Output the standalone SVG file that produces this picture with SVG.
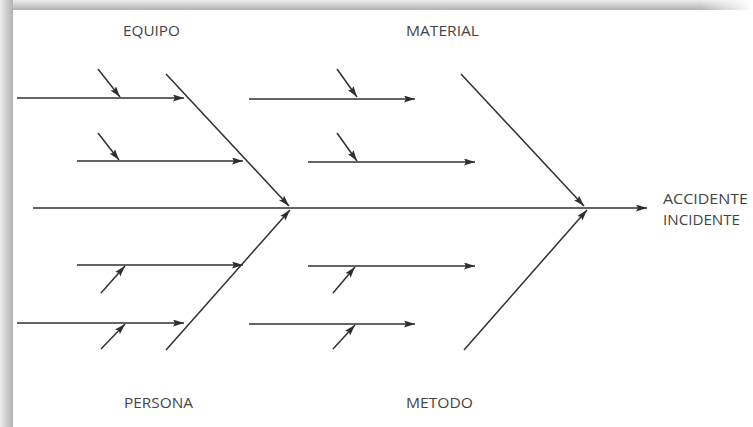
<svg xmlns="http://www.w3.org/2000/svg" width="753" height="427" viewBox="0 0 753 427">
  <defs>
    <linearGradient id="gTop" x1="0" y1="0" x2="0" y2="1">
      <stop offset="0" stop-color="#ececec"/>
      <stop offset="1" stop-color="#b2b2b2"/>
    </linearGradient>
    <linearGradient id="gLeft" x1="0" y1="0" x2="1" y2="0">
      <stop offset="0" stop-color="#ececec"/>
      <stop offset="1" stop-color="#b2b2b2"/>
    </linearGradient>
    <linearGradient id="gFade" x1="0" y1="0" x2="1" y2="0">
      <stop offset="0" stop-color="#ffffff" stop-opacity="0"/>
      <stop offset="1" stop-color="#ffffff" stop-opacity="1"/>
    </linearGradient>
    <marker id="ah" markerUnits="userSpaceOnUse" markerWidth="12" markerHeight="8" refX="11" refY="3.5" orient="auto">
      <path d="M0,0 L11,3.5 L0,7 L2,3.5 z" fill="#2e2e2e"/>
    </marker>
    <style>
      .ln { stroke: #303030; stroke-width: 1.5; fill: none; }
      .ar { marker-end: url(#ah); }
      .lb { font-family: "Open Sans", "Noto Sans", "Liberation Sans", sans-serif; font-size: 14px; fill: #444444; }
    </style>
  </defs>

  <rect x="0" y="0" width="753" height="427" fill="#ffffff"/>
  <rect x="0" y="0" width="753" height="10" fill="url(#gTop)"/>
  <rect x="700" y="0" width="53" height="10" fill="url(#gFade)"/>
  <rect x="0" y="0" width="13" height="427" fill="url(#gLeft)"/>

  <g id="connectors">
    <line class="ln ar" x1="33" y1="208" x2="647" y2="208"/>
    <line class="ln ar" x1="166" y1="74" x2="289" y2="206"/>
    <line class="ln ar" x1="461" y1="74" x2="584" y2="206"/>
    <line class="ln ar" x1="166" y1="350" x2="290" y2="210"/>
    <line class="ln ar" x1="464" y1="350" x2="587" y2="210"/>
    <line class="ln ar" x1="17" y1="98" x2="184" y2="98"/>
    <line class="ln ar" x1="98" y1="69" x2="120" y2="97"/>
    <line class="ln ar" x1="77" y1="161" x2="243" y2="161"/>
    <line class="ln ar" x1="98" y1="133" x2="119" y2="160"/>
    <line class="ln ar" x1="249" y1="99" x2="415" y2="99"/>
    <line class="ln ar" x1="337" y1="69" x2="357" y2="97"/>
    <line class="ln ar" x1="308" y1="162" x2="475" y2="162"/>
    <line class="ln ar" x1="337" y1="133" x2="357" y2="161"/>
    <line class="ln ar" x1="77" y1="265" x2="243" y2="265"/>
    <line class="ln ar" x1="101" y1="293" x2="125" y2="266"/>
    <line class="ln ar" x1="17" y1="323" x2="184" y2="323"/>
    <line class="ln ar" x1="101" y1="349" x2="125" y2="324"/>
    <line class="ln ar" x1="308" y1="266" x2="475" y2="266"/>
    <line class="ln ar" x1="333" y1="293" x2="355" y2="267"/>
    <line class="ln ar" x1="249" y1="324" x2="415" y2="324"/>
    <line class="ln ar" x1="333" y1="349" x2="355" y2="325"/>
  </g>

  <g id="equipo"><text class="lb" x="123" y="36" textLength="57" lengthAdjust="spacingAndGlyphs">EQUIPO</text></g>
  <g id="material"><text class="lb" x="406" y="36" textLength="73" lengthAdjust="spacingAndGlyphs">MATERIAL</text></g>
  <g id="persona"><text class="lb" x="124" y="408" textLength="69" lengthAdjust="spacingAndGlyphs">PERSONA</text></g>
  <g id="metodo"><text class="lb" x="406" y="408" textLength="67" lengthAdjust="spacingAndGlyphs">METODO</text></g>
  <g id="accidente">
    <text class="lb" x="663" y="204" textLength="85" lengthAdjust="spacingAndGlyphs">ACCIDENTE</text>
    <text class="lb" x="663" y="225" textLength="77" lengthAdjust="spacingAndGlyphs">INCIDENTE</text>
  </g>
</svg>
